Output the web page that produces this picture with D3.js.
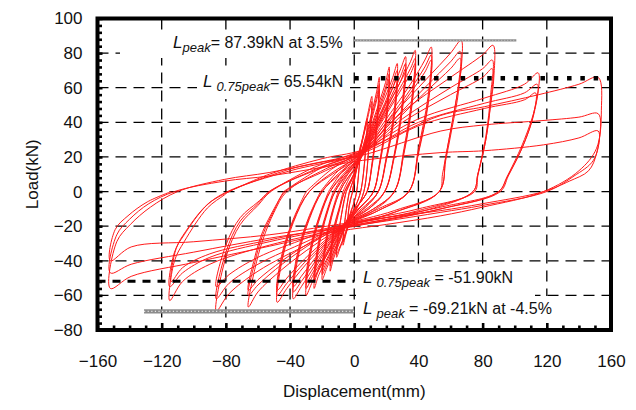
<!DOCTYPE html>
<html><head><meta charset="utf-8">
<script src="https://cdn.jsdelivr.net/npm/d3@7"></script>
<style>body{margin:0;background:#fff}</style>
</head><body><svg id="c" width="636" height="410"></svg>
<script>
// ---------------- data ----------------
const xTicks = [-160,-120,-80,-40,0,40,80,120,160];
const yTicks = [-80,-60,-40,-20,0,20,40,60,80,100];
const xTitle = "Displacement(mm)";
const yTitle = "Load(kN)";

// reference levels (kN) and their drift ratios (%)
const peakPosLoad = 87.39, peakPosDrift = 3.5;
const peak75PosLoad = 65.54;
const peak75NegLoad = -51.90;
const peakNegLoad = -69.21, peakNegDrift = -4.5;
const peakPosLineX = [0, 101];
const peak75PosLineX = [0, 160];
const peak75NegLineX = [-160, 0];
const peakNegLineX = [-131, 0];

// hysteresis history, one array per displacement level: [displacement mm, load kN]
const loop01 = [[-1,0],[0,6],[2,16],[4,27],[3,14],[1.5,0],[0,-6],[-2,-12],[-4,-19],[-3,-8],[-1,0],
  [0,6],[2,15],[4,25],[3,13],[1.5,0],[0,-6],[-2,-11],[-4,-17],[-3,-7],[-1,0]];
const loop02 = [[-1,0],[0,7],[3,22],[6,34],[8,42],[7,24],[4,0],[1,-8],[-2,-15],[-5,-24],[-7,-31],[-5.5,-15],[-3,0],
  [0,8],[3,21],[6,33],[8,40],[7,22],[4,0],[1,-8],[-2,-14],[-5,-23],[-7,-29],[-5.5,-14],[-3,0]];
const loop03 = [[-3,0],[0,9],[4,26],[8,43],[11,55],[9.5,32],[6,0],[2,-9],[-2,-16],[-6,-26],[-9,-33],[-11,-38],[-9,-20],[-5,0],
  [0,10],[4,25],[8,41],[11,52],[9.5,30],[6,0],[2,-9],[-2,-15],[-6,-25],[-9,-32],[-11,-36],[-9,-19],[-5,0]];
const loop04 = [[-5,0],[-2,6],[1,13],[6,28],[11,46],[14,58],[15.6,66],[14,40],[11,16],[8,0],[4,-6],[0,-11],[-5,-19],[-9,-29],[-13,-39],[-15,-46],[-13,-26],[-9,-10],[-6,0],
  [-2,7],[1,13],[6,27],[11,44],[14,55],[15.6,62],[14,38],[11,15],[8,0],[4,-6],[0,-11],[-5,-18],[-9,-28],[-13,-37],[-15,-43],[-13,-24],[-9,-9],[-6,0],
  [-2,7],[1,12],[6,26],[11,42],[14,53],[15.6,59],[14,36],[11,14],[8,0],[4,-6],[0,-10],[-5,-17],[-9,-27],[-13,-35],[-15,-41],[-13,-22],[-9,-8],[-7,0]];
const loop05 = [[-7,0],[-3,8],[2,16],[8,31],[15,50],[19.5,63],[21.8,72],[20,45],[16,18],[12,0],[6,-7],[0,-13],[-6,-21],[-12,-33],[-17,-44],[-20,-51],[-17,-28],[-13,-11],[-9,0],
  [-4,8],[2,16],[8,30],[15,48],[19.5,60],[21.8,68],[20,42],[16,17],[12,0],[6,-7],[0,-13],[-6,-20],[-12,-31],[-17,-42],[-20,-48],[-17,-26],[-13,-10],[-9,0],
  [-4,8],[2,15],[8,29],[15,46],[19.5,58],[21.8,65],[20,40],[16,16],[12,0],[6,-7],[0,-12],[-6,-19],[-12,-30],[-17,-40],[-20,-46],[-17,-24],[-13,-9],[-10,0]];
const loop06 = [[-10,0],[-4,10],[3,19],[10,34],[19,54],[24,66],[26.8,74],[25,48],[20,20],[15,0],[7,-9],[-2,-16],[-9,-24],[-16,-37],[-22,-48],[-25,-56],[-22,-32],[-17,-13],[-12,0],
  [-5,10],[3,19],[10,33],[19,51],[24,63],[26.8,70],[25,45],[20,19],[15,0],[7,-9],[-2,-16],[-9,-23],[-16,-35],[-22,-45],[-25,-52],[-22,-30],[-17,-12],[-12,0],
  [-5,9],[3,18],[10,32],[19,49],[24,60],[26.8,67],[25,43],[20,18],[15,0],[7,-8],[-2,-15],[-9,-22],[-16,-34],[-22,-44],[-25,-50],[-22,-28],[-17,-11],[-13,0]];
const loop07 = [[-13,0],[-6,10],[4,21],[13,38],[23,58],[29,71],[32,78],[30,52],[25,22],[19,0],[9,-10],[-4,-18],[-11,-26],[-19,-40],[-26,-52],[-30,-60],[-27,-35],[-21,-14],[-15,0],
  [-7,10],[4,20],[13,36],[23,55],[29,67],[32,74],[30,49],[25,21],[19,0],[9,-10],[-4,-17],[-11,-25],[-19,-38],[-26,-49],[-30,-56],[-27,-33],[-21,-13],[-15,0],
  [-7,9],[4,19],[13,35],[23,53],[29,64],[32,71],[30,47],[25,20],[19,0],[9,-9],[-4,-17],[-11,-24],[-19,-36],[-26,-47],[-30,-53],[-27,-31],[-21,-12],[-16,0]];
const loop08 = [[-16,0],[-8,11],[4,22],[15,40],[28,62],[35,75],[38,81.6],[36,55],[31,25],[25,0],[12,-11],[-6,-20],[-14,-28],[-24,-42],[-33,-55],[-38,-62],[-35,-38],[-28,-16],[-20,0],
  [-9,11],[4,21],[15,38],[28,59],[35,71],[38,77],[36,52],[31,23],[25,0],[12,-10],[-6,-19],[-14,-27],[-24,-40],[-33,-52],[-38,-58],[-35,-36],[-28,-15],[-20,0],
  [-9,10],[4,20],[15,37],[28,57],[35,68],[38,74],[36,50],[31,22],[25,0],[12,-10],[-6,-19],[-14,-26],[-24,-38],[-33,-49],[-38,-55],[-35,-34],[-28,-14],[-21,0]];
const loop09 = [[-21,0],[-10,12],[5,23],[20,42],[35,62],[44,76],[48,83.5],[46,55],[40,25],[34,0],[15,-11],[-8,-21],[-18,-30],[-31,-43],[-42,-56],[-48,-64],[-45,-40],[-38,-18],[-28,0],
  [-12,12],[5,22],[20,40],[35,59],[44,72],[48,79],[46,52],[40,23],[34,0],[15,-11],[-8,-20],[-18,-29],[-31,-41],[-42,-53],[-48,-60],[-45,-38],[-38,-17],[-28,0],
  [-12,11],[5,21],[20,38],[35,57],[44,69],[48,76],[46,50],[40,22],[34,0],[15,-10],[-8,-20],[-18,-28],[-31,-39],[-42,-50],[-48,-57],[-45,-36],[-38,-16],[-30,0]];
const loop10 = [[-30,0],[-14,13],[5,24],[25,45],[45,65],[60,80],[66.6,87.4],[67,75],[63,50],[58,25],[55,10],[53,0],[25,-12],[-9,-22],[-25,-31],[-45,-45],[-60,-58],[-66,-66.7],[-62,-45],[-57,-28],[-50,-12],[-42,0],
  [-18,13],[5,23],[25,42],[45,61],[60,75],[66,81],[65,62],[61,40],[57,20],[53,0],[25,-12],[-9,-21],[-25,-29],[-45,-42],[-60,-54],[-66,-60],[-62,-41],[-57,-25],[-50,-11],[-43,0],
  [-18,12],[5,22],[25,40],[45,58],[60,71],[66,77],[65,58],[61,37],[57,18],[53,0],[25,-11],[-9,-20],[-25,-28],[-45,-40],[-60,-51],[-66,-57],[-62,-38],[-57,-23],[-50,-10],[-44,0]];
const loop11 = [[-44,0],[-20,14],[5,24],[30,46],[60,66],[80,79],[86.5,84.5],[87,66],[85,50],[82,30],[77,10],[74,0],[40,-12],[-10,-22],[-30,-31],[-60,-46],[-78,-59],[-86,-69.2],[-80,-38],[-71,-19],[-60,-8],[-52,0],
  [-24,13],[5,23],[30,42],[60,60],[80,71],[86,76],[85,56],[82,32],[77,10],[74,0],[40,-11],[-10,-21],[-30,-29],[-60,-42],[-78,-53],[-86,-62],[-80,-35],[-71,-17],[-60,-7],[-53,0],
  [-25,12],[5,22],[30,40],[60,56],[80,66],[86,71],[85,52],[82,30],[77,9],[75,0],[40,-10],[-10,-20],[-30,-27],[-60,-38],[-78,-48],[-86,-55],[-80,-31],[-71,-15],[-60,-6],[-53,0]];
const loop12 = [[-53,0],[-25,14],[5,24],[40,42],[81,54],[106,62],[114.6,68.6],[113,50],[106,30],[96,10],[90,0],[54,-10],[-10,-22],[-53,-31],[-90,-42],[-107,-52],[-115,-63],[-112,-40],[-106,-29],[-91.5,-9.5],[-81,-2],[-78,0],
  [-40,13],[5,23],[40,40],[81,51],[106,57],[114,62],[112,45],[105,26],[96,9],[91,0],[54,-10],[-10,-21],[-53,-29],[-90,-38],[-107,-47],[-115,-55],[-112,-35],[-106,-25],[-92,-8],[-79,0],
  [-40,12],[5,22],[40,38],[81,48],[106,53],[113,57],[111,42],[104,24],[95,8],[90,0],[54,-9],[-10,-20],[-53,-28],[-90,-36],[-107,-44],[-114,-52],[-111,-33],[-105,-23],[-91,-7],[-78,0]];
const loop13 = [[-78,0],[-53,10],[-20,19],[5,24],[54,44],[81,49],[115,56],[140,62],[152,66],[154,47],[151,25],[140,12],[118,0],[80,-9],[54,-14],[20,-19],[-10,-23],[-53,-31.6],[-100,-41],[-139,-49],[-152,-56],[-148,-29],[-139.5,-19],[-127,-9],[-110,0],
  [-81,7],[-53,11],[-20,17],[5,21],[54,35],[81,38.5],[117,41],[140,43],[152,45],[153,32],[149,18],[137,9],[120,0],[80,-8],[54,-12],[20,-17],[-10,-21],[-53,-27],[-100,-35],[-139,-42],[-152,-47],[-148,-25],[-140,-16],[-128,-7],[-112,0],
  [-81,6],[-53,9],[-20,14],[5,18],[54,22.5],[81,23.6],[118,27],[140,31],[152,35],[151,22],[146,12],[134,6],[118,0],[80,-7],[54,-11],[20,-15],[-10,-19],[-53,-25],[-100,-29],[-139,-32],[-152,-40],[-149,-22],[-141,-14],[-129,-6],[-114,0]];
const loops = [loop01,loop02,loop03,loop04,loop05,loop06,loop07,loop08,loop09,loop10,loop11,loop12,loop13];

// ---------------- drawing ----------------
const svg = d3.select("#c");
const font = "'Liberation Sans', Arial, sans-serif";
const x = d3.scaleLinear().domain([-160,160]).range([97.5,611]);
const y = d3.scaleLinear().domain([-80,100]).range([330,18.5]);

svg.append("rect").attr("width",636).attr("height",410).attr("fill","#fff");

// grid
const grid = svg.append("g").attr("stroke","#000").attr("stroke-width",1.3).attr("stroke-dasharray","11,7");
grid.selectAll("line.v").data(xTicks.filter(d=>d>-160&&d<160)).join("line")
  .attr("x1",d=>x(d)).attr("x2",d=>x(d)).attr("y1",y(100)).attr("y2",y(-80));
grid.selectAll("line.h").data(yTicks.filter(d=>d>-80&&d<100)).join("line").attr("class","h")
  .attr("x1",x(-160)).attr("x2",x(160)).attr("y1",d=>y(d)).attr("y2",d=>y(d));

// white label boxes
const boxes = [[120,35,352,58],[197,71,350,99],[356,264,535,296],[356,296,592,328]];
svg.selectAll("rect.box").data(boxes).join("rect").attr("class","box")
  .attr("x",d=>d[0]).attr("y",d=>d[1]).attr("width",d=>d[2]-d[0]).attr("height",d=>d[3]-d[1]).attr("fill","#fff");

// hysteresis curves
const line = d3.line().x(d=>x(d[0])).y(d=>y(d[1])).curve(d3.curveCatmullRom.alpha(0.5));
svg.append("g").selectAll("path").data(loops).join("path")
  .attr("d",line).attr("fill","none").attr("stroke","#ff1a1a").attr("stroke-width",1).attr("stroke-linejoin","round");

// reference lines
function hline(xs, v){ return svg.append("line").attr("x1",x(xs[0])).attr("x2",x(xs[1])).attr("y1",y(v)).attr("y2",y(v)); }
hline(peakPosLineX, peakPosLoad).attr("stroke","#8c8c8c").attr("stroke-width",2.2);
hline(peakPosLineX, peakPosLoad).attr("stroke","#d8d8d8").attr("stroke-width",0.8).attr("stroke-dasharray","1,2");
hline(peak75PosLineX, peak75PosLoad).attr("stroke","#000").attr("stroke-width",4.5).attr("stroke-dasharray","4.5,8.8");
hline(peak75NegLineX, peak75NegLoad).attr("stroke","#000").attr("stroke-width",3).attr("stroke-dasharray","8,7");
hline(peakNegLineX, peakNegLoad).attr("stroke","#8c8c8c").attr("stroke-width",4.2);
hline(peakNegLineX, peakNegLoad).attr("stroke","#e6e6e6").attr("stroke-width",1.2).attr("stroke-dasharray","1.2,2.4");

// annotations
function annot(x0, yb, sub, subGap, rest){
  const t = svg.append("text").attr("x",x0).attr("y",yb).attr("font-family",font).attr("fill","#111").attr("font-size",16);
  t.append("tspan").attr("font-style","italic").attr("font-size",17).text("L");
  t.append("tspan").attr("font-style","italic").attr("font-size",13).attr("dx",subGap).attr("dy",4).text(sub);
  t.append("tspan").attr("dy",-4).text(rest);
}
annot(173, 48, "peak", 0, `= ${peakPosLoad.toFixed(2)}kN at ${peakPosDrift}%`);
annot(203, 87.3, "0.75peak", 4, `= ${peak75PosLoad.toFixed(2)}kN`);
annot(363, 283, "0.75peak", 4, ` = ${peak75NegLoad.toFixed(2)}kN`);
annot(363, 314, "peak", 4, ` = ${peakNegLoad.toFixed(2)}kN at ${peakNegDrift}%`);

// axes with inside ticks
const xMinor = d3.range(-150,160,10).filter(d=>d%40!==0);
const yMinor = d3.range(-76,100,4).filter(d=>d%20!==0);
const ax = svg.append("g").attr("transform",`translate(0,${y(-80)})`);
ax.call(d3.axisBottom(x).tickValues(xMinor).tickSize(-4.5).tickFormat(""));
ax.append("g").call(d3.axisBottom(x).tickValues(xTicks).tickSize(-7).tickPadding(25).tickFormat(d3.format("d")));
const ay = svg.append("g").attr("transform",`translate(${x(-160)},0)`);
ay.call(d3.axisLeft(y).tickValues(yMinor).tickSize(-4.5).tickFormat(""));
ay.append("g").call(d3.axisLeft(y).tickValues(yTicks).tickSize(-5).tickPadding(15).tickFormat(d3.format("d")));
svg.selectAll(".domain").remove();
svg.selectAll(".tick line").attr("stroke","#000").attr("stroke-width",2.6);
svg.selectAll(".tick text").attr("font-family",font).attr("font-size",17).attr("fill","#111");

// frame
svg.append("rect").attr("x",x(-160)).attr("y",y(100)).attr("width",x(160)-x(-160)).attr("height",y(-80)-y(100))
  .attr("fill","none").attr("stroke","#000").attr("stroke-width",4);

// titles
svg.append("text").attr("x",(x(-160)+x(160))/2).attr("y",397).attr("text-anchor","middle")
  .attr("font-family",font).attr("font-size",17).attr("fill","#111").text(xTitle);
svg.append("text").attr("transform",`translate(38,${y(10)}) rotate(-90)`).attr("text-anchor","middle")
  .attr("font-family",font).attr("font-size",17).attr("fill","#111").text(yTitle);
</script></body></html>
